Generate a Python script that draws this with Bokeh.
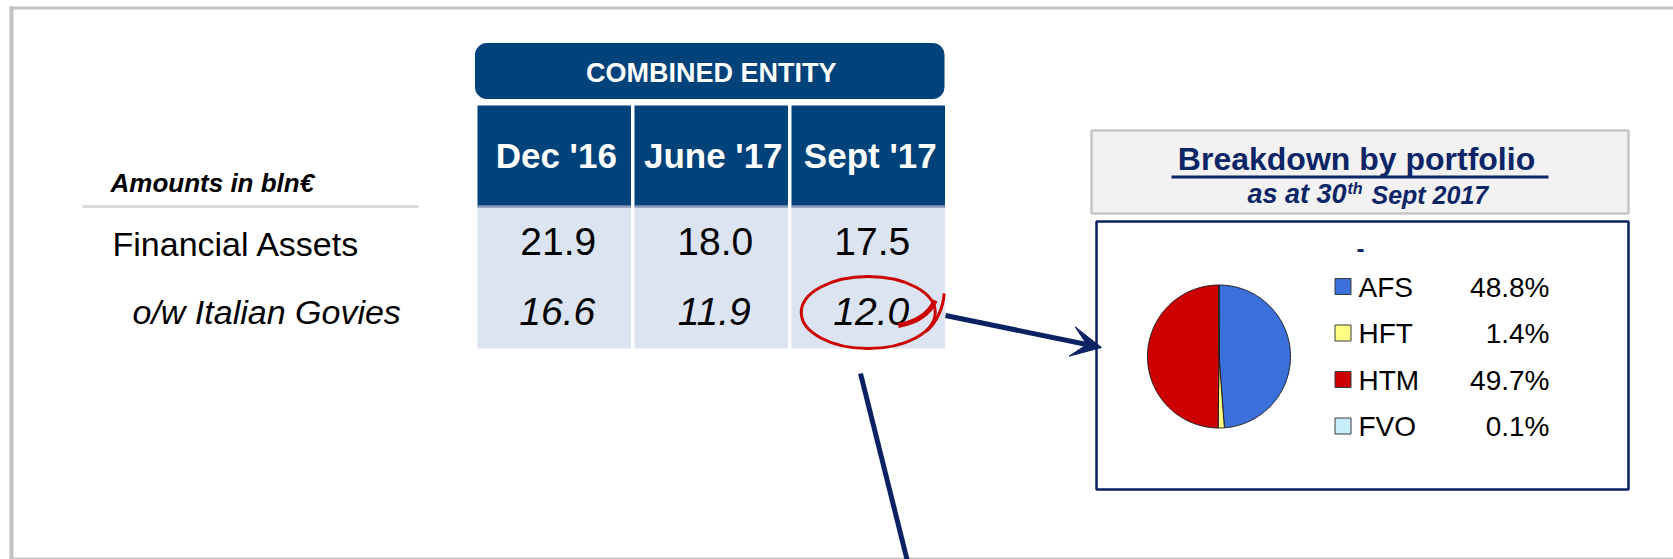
import math
from bokeh.plotting import figure
from bokeh.models import Range1d, BoxAnnotation, Arrow, VeeHead
from bokeh.core.properties import value
from bokeh.embed import file_html
from bokeh.resources import INLINE

# ---------------- data ----------------
table_title = "COMBINED ENTITY"
units_label = "Amounts in bln€"
periods = ["Dec '16", "June '17", "Sept '17"]
row_labels = ["Financial Assets", "o/w Italian Govies"]
financial_assets = [21.9, 18.0, 17.5]
italian_govies = [16.6, 11.9, 12.0]

pie_title = "Breakdown by portfolio"
pie_sub_a, pie_sub_sup, pie_sub_b = "as at 30", "th", "Sept 2017"
portfolios = ["AFS", "HFT", "HTM", "FVO"]
portfolio_pct = [48.8, 1.4, 49.7, 0.1]

# ---------------- styles ----------------
NAVY = "#00427a"
CELL = "#dbe4f0"
LINE_NAVY = "#0b2262"
TITLE_NAVY = "#0c2566"
RED = "#cc0000"
FRAME = "#c3c3c3"
portfolio_colors = ["#3b6fd9", "#ffff84", "#cc0000", "#c8eefb"]
FONT = value("Liberation Sans")

W, H = 1673, 559
p = figure(width=W, height=H, x_range=Range1d(0, W), y_range=Range1d(H, 0),
           output_backend="svg", toolbar_location=None, x_axis_type=None,
           y_axis_type=None, min_border=0)
p.grid.visible = False
p.outline_line_color = None
p.background_fill_color = "white"
p.border_fill_color = "white"


def txt(xs, base, texts, size, style="normal", color="black", align="left"):
    """Place text so that its alphabetic baseline sits at `base` (pixel coords)."""
    ys = [b - 0.35 * size for b in base]
    p.text(x=xs, y=ys, text=texts, text_font=FONT, text_font_size=f"{size}px",
           text_font_style=style, text_color=color, text_align=align,
           text_baseline="middle")


# slide frame (top, left, bottom)
p.quad(left=[9], right=[W], top=[6], bottom=[9], fill_color=FRAME, line_color=None)
p.quad(left=[9], right=[13], top=[6], bottom=[H], fill_color=FRAME, line_color=None)
p.quad(left=[9], right=[W], top=[557], bottom=[559], fill_color=FRAME, line_color=None)

# ---------------- table ----------------
COL_X0, COL_STEP, COL_W = 477, 157, 153.5
HEAD_TOP, HEAD_BOT, DATA_BOT = 105, 206, 348
n = len(periods)
col_left = [COL_X0 + i * COL_STEP for i in range(n)]
col_right = [l + COL_W for l in col_left]
col_mid = [(l + r) / 2 for l, r in zip(col_left, col_right)]

header_box = BoxAnnotation(left=col_left[0] - 2, right=col_right[-1] - 1, top=43, bottom=98,
                           fill_color=NAVY, fill_alpha=1.0, line_color=NAVY, line_alpha=1.0,
                           line_width=1, border_radius=11, level="underlay")
p.add_layout(header_box)
txt([(col_left[0] + col_right[-1]) / 2], [82], [table_title], 27, "bold", "white", "center")

p.quad(left=col_left, right=col_right, top=HEAD_TOP, bottom=HEAD_BOT, fill_color=NAVY, line_color=None)
p.quad(left=col_left, right=col_right, top=HEAD_BOT, bottom=DATA_BOT, fill_color=CELL, line_color=None)
p.segment(x0=col_left, y0=[HEAD_BOT] * n, x1=col_right, y1=[HEAD_BOT] * n,
          line_color="#8797b4", line_width=2.5)

txt([m + 2 for m in col_mid], [167] * n, periods, 35, "bold", "white", "center")
txt([m + 4 for m in col_mid], [255] * n, [f"{v:.1f}" for v in financial_assets], 39,
    "normal", "black", "center")
txt([m + 3 for m in col_mid], [325] * n, [f"{v:.1f}" for v in italian_govies], 39,
    "italic", "black", "center")

# left labels
txt([110], [192], [units_label], 26, "bold italic")
p.segment(x0=[82], y0=[206], x1=[418], y1=[206], line_color="#d9d9d9", line_width=3)
txt([112], [255], [row_labels[0]], 34)
txt([132], [323], [row_labels[1]], 34, "italic")

# red highlight around the Sept '17 govies value
hx, hy = col_mid[2], (HEAD_BOT + DATA_BOT) / 2 + 36
p.ellipse(x=[hx], y=[hy - 1], width=134, height=72, fill_color=None, line_color=RED, line_width=3)
p.quadratic(x0=[hx + 30], y0=[hy + 12], x1=[hx + 67], y1=[hy - 13], cx=[hx + 58], cy=[hy + 7],
            line_color=RED, line_width=5)
p.quadratic(x0=[hx + 58], y0=[hy + 18], x1=[hx + 76], y1=[hy - 20], cx=[hx + 74], cy=[hy + 3],
            line_color=RED, line_width=3)

# connector arrow and line
p.add_layout(Arrow(end=VeeHead(size=30, fill_color=LINE_NAVY, line_color=LINE_NAVY),
                   x_start=945, y_start=315, x_end=1101, y_end=347,
                   line_color=LINE_NAVY, line_width=5))
p.segment(x0=[860], y0=[373], x1=[907], y1=[H + 2], line_color=LINE_NAVY, line_width=5)

# ---------------- pie panel ----------------
p.quad(left=[1091], right=[1628], top=[130], bottom=[213], fill_color="#f2f2f2",
       line_color="#c6c6c6", line_width=2.5)
txt([1356], [170], [pie_title], 32, "bold", TITLE_NAVY, "center")
p.segment(x0=[1171], y0=[176.5], x1=[1548], y1=[176.5], line_color=TITLE_NAVY, line_width=3)
txt([1346], [203], [pie_sub_a], 27, "bold italic", TITLE_NAVY, "right")
txt([1347], [194], [pie_sub_sup], 16, "bold italic", TITLE_NAVY, "left")
txt([1371], [203], [pie_sub_b], 25, "bold italic", TITLE_NAVY, "left")

p.quad(left=[1096], right=[1628], top=[221], bottom=[489], fill_color="white",
       line_color=LINE_NAVY, line_width=2.5)
txt([1360], [256], ["-"], 24, "bold", TITLE_NAVY, "center")

cx, cy, r = 1218.5, 356, 71.5
total = sum(portfolio_pct)
xs, ys = [], []
cum = 0.0
for v in portfolio_pct:
    a0 = 2 * math.pi * cum / total
    a1 = 2 * math.pi * (cum + v) / total
    steps = max(2, int((a1 - a0) / 0.02) + 2)
    px, py = [cx], [cy]
    for k in range(steps + 1):
        a = a0 + (a1 - a0) * k / steps
        px.append(cx + r * math.sin(a))
        py.append(cy - r * math.cos(a))
    xs.append(px)
    ys.append(py)
    cum += v
p.patches(xs, ys, fill_color=portfolio_colors, line_color="#1e1e1e", line_width=1)

LEG_Y0, LEG_STEP = 286, 46.5
m = len(portfolios)
leg_y = [LEG_Y0 + i * LEG_STEP for i in range(m)]
p.rect(x=[1342.5] * m, y=leg_y, width=16, height=16, fill_color=portfolio_colors,
       line_color="#3a3a3a", line_width=1)
txt([1358] * m, [y + 10.5 for y in leg_y], portfolios, 28)
txt([1549] * m, [y + 10.5 for y in leg_y], [f"{v:.1f}%" for v in portfolio_pct], 28,
    "normal", "black", "right")

open("out.html", "w").write(file_html(p, INLINE))
